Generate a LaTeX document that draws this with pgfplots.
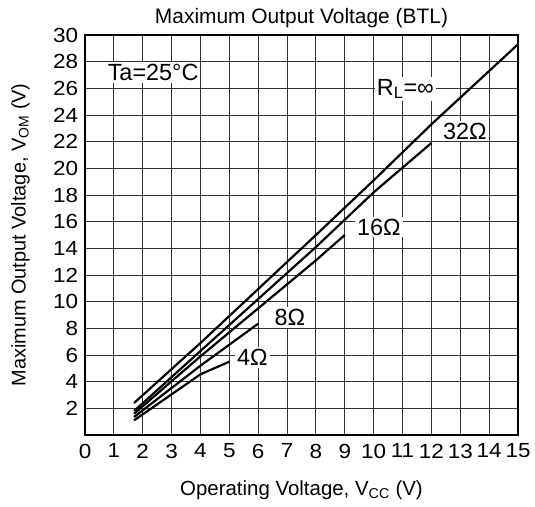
\documentclass[border=0pt]{standalone}
\usepackage{fontspec}
\setmainfont{Liberation Sans}
\newfontfamily\tickfont{Liberation Sans}[FakeStretch=1.1]
\usepackage{pgfplots}
\pgfplotsset{compat=1.18}
\begin{document}
\fontsize{20}{24}\selectfont
\begin{tikzpicture}
\useasboundingbox (-85bp,-72bp) rectangle (450bp,435bp);
\begin{axis}[
  at={(0,0)}, anchor=south west,
  scale only axis, width=433bp, height=400bp,
  xmin=0, xmax=15, ymin=0, ymax=30,
  xtick={0,1,...,15}, ytick={2,4,...,30},
  extra y ticks={0}, extra y tick labels={}, extra y tick style={grid=none},
  grid=major,
  major grid style={black!80, line width=0.9bp},
  axis line style={black, line width=1.6bp},
  tick style={draw=none},
  /pgf/number format/assume math mode=true,
  tick label style={font=\tickfont\fontsize{20.5}{24}\selectfont},
  xticklabel style={yshift=-2bp},
  yticklabel style={xshift=0bp},
  title={Maximum Output Voltage (BTL)},
  title style={font=\fontsize{21}{24}\selectfont, yshift=-6bp},
  xlabel={Operating Voltage, V\textsubscript{CC} (V)},
  ylabel={Maximum Output Voltage, V\textsubscript{OM} (V)},
  xlabel style={font=\fontsize{20.5}{24}\selectfont, yshift=-9bp},
  ylabel style={font=\fontsize{20}{24}\selectfont, yshift=10bp},
  clip=false,
]
% R_L = infinity
\addplot[black, line width=2.2bp] coordinates {(1.7,2.4) (4,6.9) (8,15.0) (10,19.1) (12,23.3) (15,29.3)};
% 32 ohm
\addplot[black, line width=2.2bp] coordinates {(1.7,1.8) (4,6.3) (8,14.1) (10,18.2) (12,21.9)};
% 16 ohm
\addplot[black, line width=2.2bp] coordinates {(1.7,1.6) (4,5.9) (8,13.1) (9,15.0)};
% 8 ohm
\addplot[black, line width=2.2bp] coordinates {(1.7,1.35) (4,5.2) (6,8.35)};
% 4 ohm
\addplot[black, line width=2.2bp] coordinates {(1.7,1.1) (4,4.55) (5,5.5)};
\node[fill=white, inner sep=2bp, font=\fontsize{23.5}{26}\selectfont] at (axis cs:2.36,27.2) {Ta=25°C};
\node[fill=white, inner sep=2bp, font=\fontsize{23.5}{26}\selectfont] at (axis cs:11.1,25.95) {R\textsubscript{L}=∞};
\node[fill=white, inner sep=2bp, font=\fontsize{23.5}{26}\selectfont] at (axis cs:13.16,22.8) {32Ω};
\node[fill=white, inner sep=2bp, font=\fontsize{23.5}{26}\selectfont] at (axis cs:10.18,15.6) {16Ω};
\node[fill=white, inner sep=2bp, font=\fontsize{23.5}{26}\selectfont] at (axis cs:7.1,8.8) {8Ω};
\node[fill=white, inner sep=2bp, font=\fontsize{23.5}{26}\selectfont] at (axis cs:5.8,5.8) {4Ω};
\end{axis}
\end{tikzpicture}
\end{document}
